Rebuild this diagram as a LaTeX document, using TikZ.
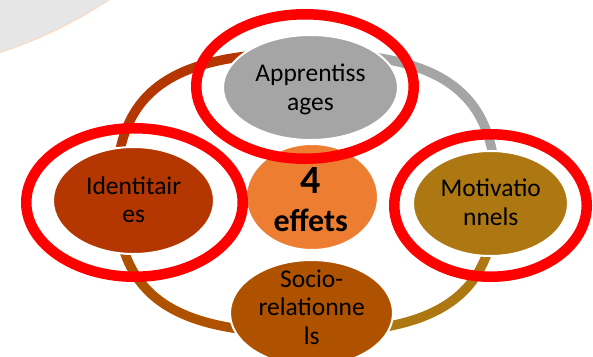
\documentclass[tikz,border=0pt]{standalone}
\usepackage{fontspec}
\setmainfont{Carlito}
\usetikzlibrary{shapes.geometric}
\definecolor{cGray}{HTML}{A5A5A5}
\definecolor{cIdent}{HTML}{B43600}
\definecolor{cOrange}{HTML}{ED7D31}
\definecolor{cMotiv}{HTML}{AD7811}
\definecolor{cSocio}{HTML}{AE5200}
\definecolor{cRed}{HTML}{FF0000}
\definecolor{cBg}{HTML}{E6E6E6}
\definecolor{cBgEdge}{HTML}{FADCC6}
\begin{document}
\begin{tikzpicture}[x=1pt,y=-1pt,
  bubble/.style={ellipse, draw=white, line width=2pt, inner sep=0pt},
  ringarc/.style={line width=9.5pt},
  halo/.style={draw=cRed, line width=10.5pt},
  lbl/.style={font=\fontsize{25.5}{28.4}\selectfont, align=center, anchor=base, inner sep=0pt, text=black},
]
\useasboundingbox (0,0) rectangle (593,356);
\clip (0,0) rectangle (593,356);
% background disc top-left
\fill[cBg] (-139.6,-375.4) circle [radius=450];
\draw[cBgEdge, line width=1.2pt] (-139.6,-375.4) circle [radius=450];
% ring
\coordinate (rL) at (116,193);
\coordinate (rT) at (306,53);
\coordinate (rR) at (496,193);
\coordinate (rB) at (306,333);
\draw[ringarc, cIdent] (rL) .. controls (116,92.2) and (169.2,53) .. (rT);
\draw[ringarc, cGray] (rT) .. controls (442.8,53) and (496,92.2) .. (rR);
\draw[ringarc, cMotiv] (rR) .. controls (496,293.8) and (442.8,333) .. (rB);
\draw[ringarc, cSocio] (rB) .. controls (169.2,333) and (116,293.8) .. (rL);
% bubbles
\node[bubble, fill=cGray, minimum width=175pt, minimum height=105pt] (appr) at (310.5,87.5) {};
\node[bubble, fill=cIdent, minimum width=161pt, minimum height=107pt] (ident) at (133.5,200.5) {};
\node[bubble, fill=cOrange, minimum width=132pt, minimum height=106pt] (core) at (312,197) {};
\node[bubble, fill=cMotiv, minimum width=155pt, minimum height=105pt] (motiv) at (490.5,203.5) {};
\node[bubble, fill=cSocio, minimum width=163pt, minimum height=106pt] (socio) at (311.5,313) {};
% texts (anchor base = last line baseline)
\node[lbl] (tAppr) at (310.5,110) {Apprentiss\\ages};
\node[lbl] (tIdent) at (133.7,222.7) {Identitair\\es};
\node[lbl] (tMotiv) at (490.8,225) {Motivatio\\nnels};
\node[lbl] (tSocio) at (311.7,344) {Socio-\\relationne\\ls};
\node[lbl, font=\bfseries\fontsize{32}{38.4}\selectfont] (tCore) at (310.8,231.7) {{\fontsize{40}{38.4}\selectfont 4}\\effets};
% red highlight rings
\draw[halo] ([shift={(-5.5,-1)}]appr.center) ellipse [x radius=108.75, y radius=72.25];
\draw[halo] ([shift={(1,2)}]ident.center) ellipse [x radius=108.25, y radius=74.25];
\draw[halo] ([shift={(0,2)}]motiv.center) ellipse [x radius=96.25, y radius=71.25];
\end{tikzpicture}
\end{document}
